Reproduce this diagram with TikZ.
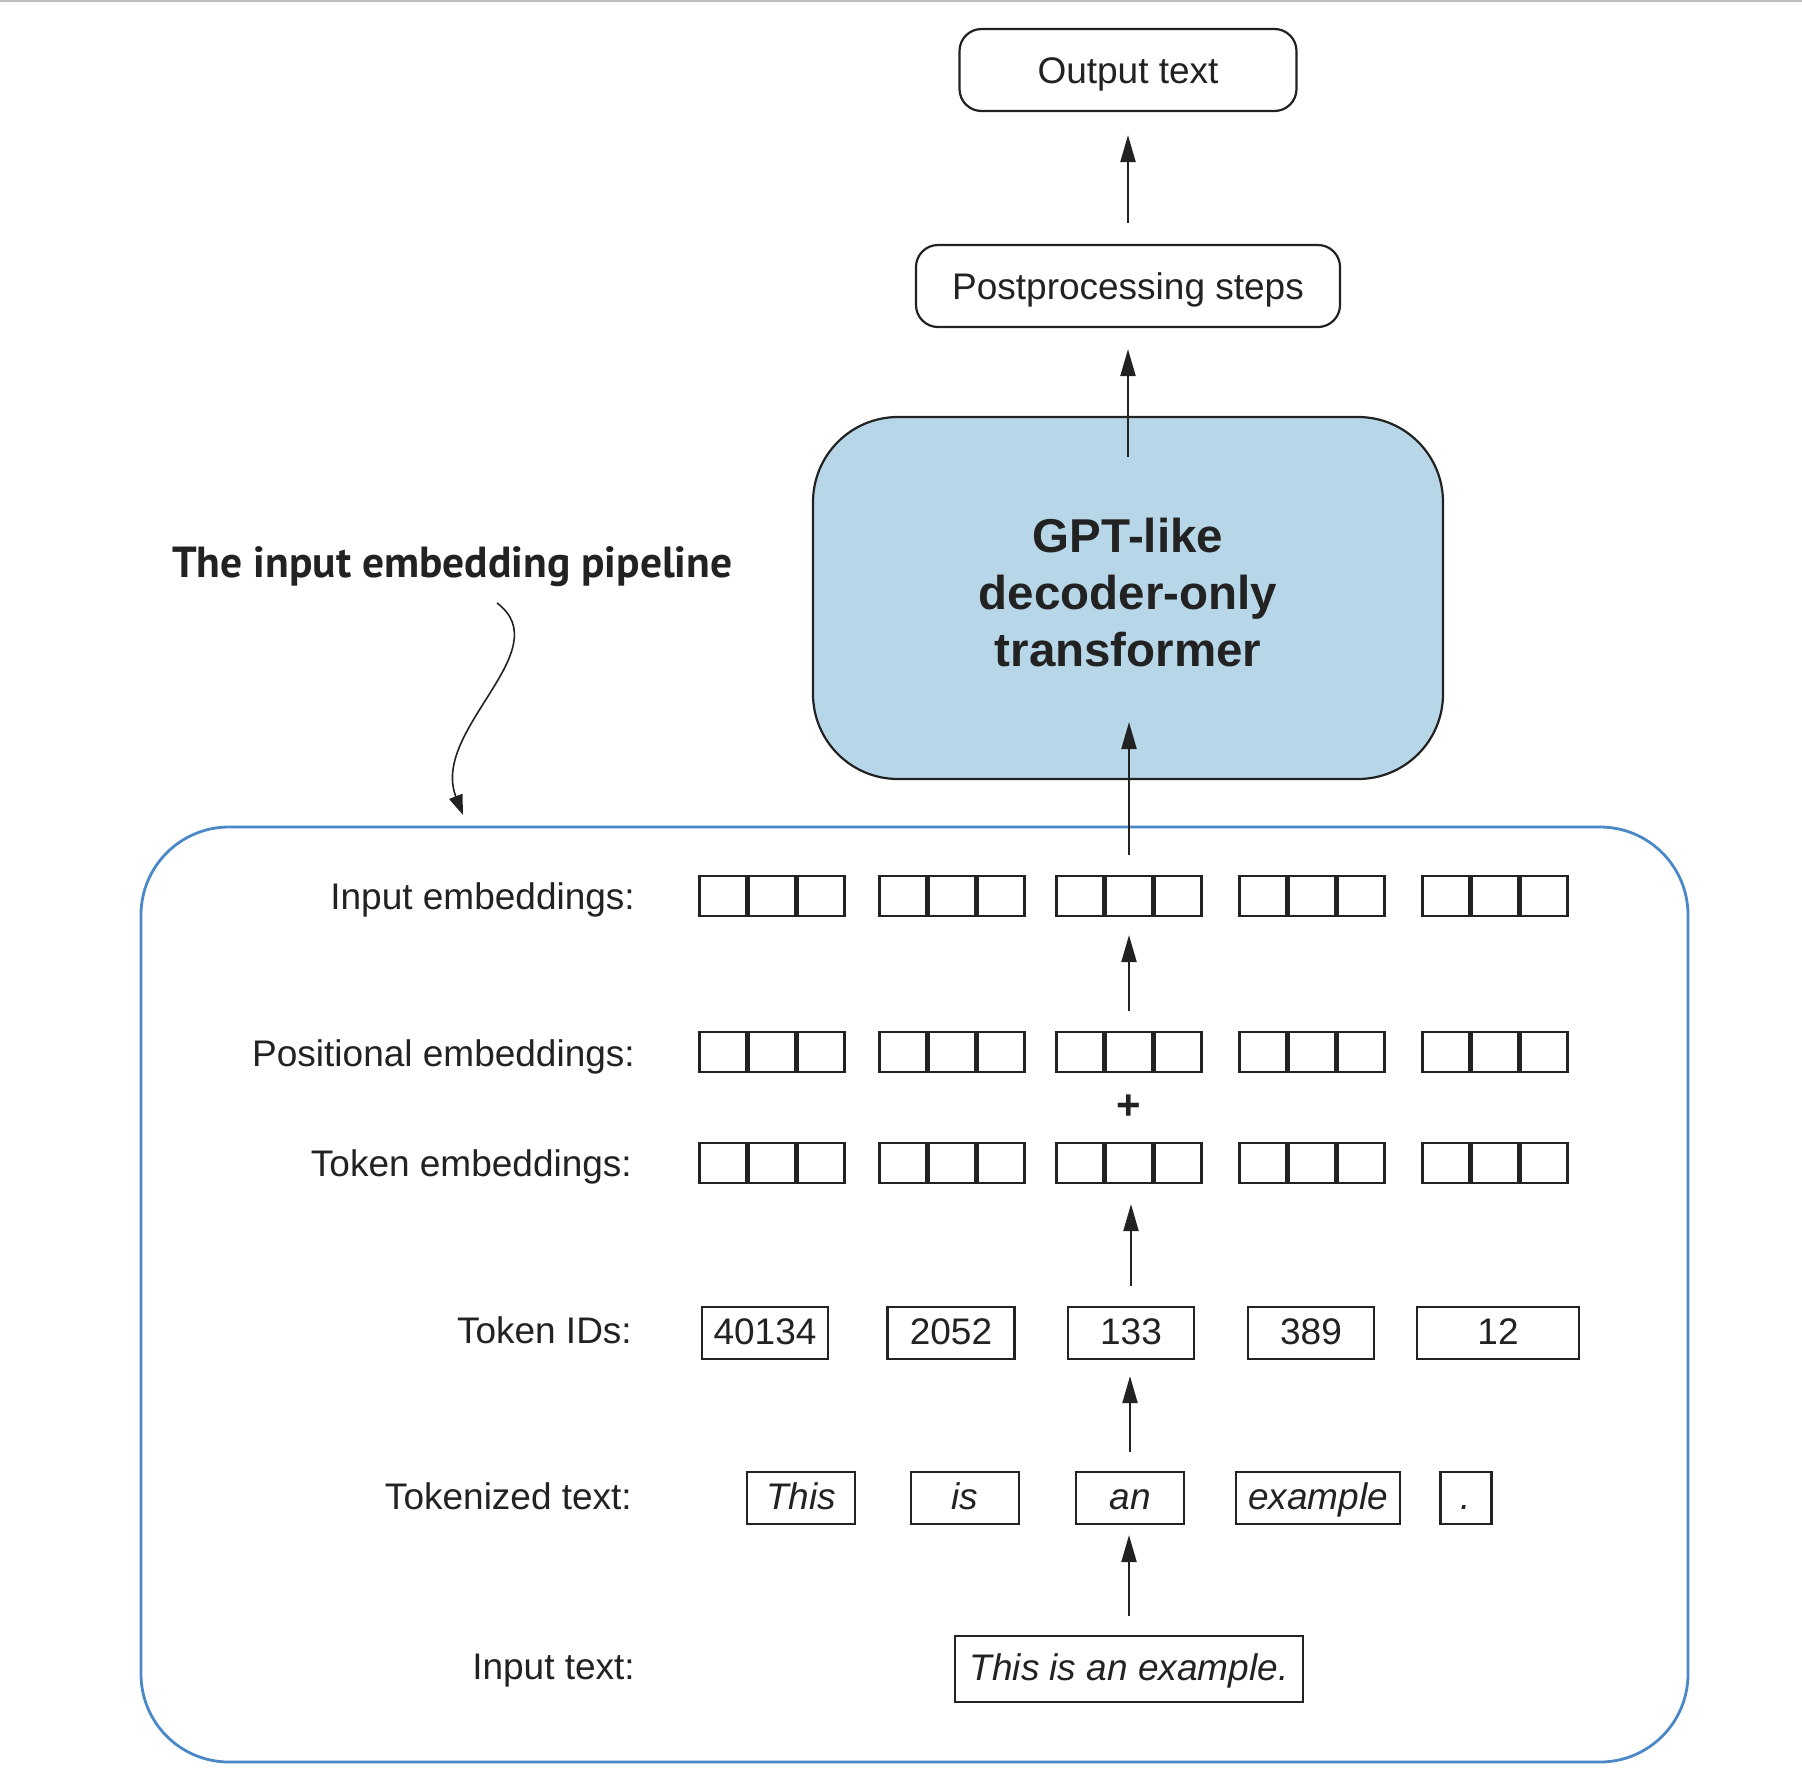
\documentclass[tikz,border=0pt]{standalone}
\usepackage{fontspec}
\usepackage{graphicx}
\setmainfont{Liberation Sans}
\newfontfamily\titlefont{PT Sans}
\usetikzlibrary{arrows.meta}
\definecolor{boxblue}{HTML}{4A88C7}
\definecolor{tfill}{HTML}{B7D7E9}
\definecolor{ink}{HTML}{222222}
\begin{document}
\begin{tikzpicture}[x=1pt,y=-1pt,
  every node/.style={text=ink},
  lbl/.style={anchor=base east, inner sep=0pt, font=\fontsize{37}{44}\selectfont},
  rbox/.style={draw=ink, line width=2.2pt, rounded corners=22pt, minimum height=82pt,
    inner sep=0pt, text height=26.5pt, text depth=0pt, font=\fontsize{37}{44}\selectfont},
  cell/.style={draw=ink, line width=2.2pt, minimum width=47pt, minimum height=40pt, inner sep=0pt},
  sbox/.style={draw=ink, line width=2.2pt, minimum height=52pt, inner sep=0pt,
    text height=23pt, text depth=0pt, font=\fontsize{37}{44}\selectfont},
  tbox/.style={sbox, font=\fontsize{37}{44}\selectfont\itshape},
  arr/.style={draw=ink, line width=2.2pt, -{Triangle[length=27pt,width=15pt]}},
]
\useasboundingbox (0,0) rectangle (1802,1786);
\fill[white] (0,0) rectangle (1802,1786);
\draw[black!25, line width=2pt] (0,1) -- (1802,1);

% pipeline frame
\node[draw=boxblue, line width=2.8pt, rounded corners=88pt, minimum width=1547pt,
  minimum height=935pt, inner sep=0pt] (pipe) at (914.5,1294.5) {};

% top part
\node[rbox, minimum width=337pt] (out) at (1128,70) {Output text};
\node[rbox, minimum width=424pt] (post) at (1128,286) {Postprocessing steps};
\node[draw=ink, fill=tfill, line width=2.2pt, rounded corners=85pt, minimum width=630pt,
  minimum height=362pt, inner sep=0pt, align=center,
  font=\fontsize{47.5}{57}\selectfont\bfseries] (tr) at (1128,598)
  {\raisebox{4pt}{\begin{tabular}{@{}c@{}}GPT-like\\[0pt]decoder-only\\transformer\end{tabular}}};
\coordinate (trout) at (1128,457);
\coordinate (trin) at (1128,722);

% title and curved arrow
\node[anchor=base west, inner sep=0pt, font=\titlefont\bfseries\fontsize{43.5}{50}\selectfont]
  (title) at (172,577) {The input embedding pipeline};
\coordinate (cs) at (497,603);
\coordinate (ce) at (463,815);
\draw[ink, line width=1.6pt, -{Triangle[length=20pt,width=14pt]}]
  (cs) .. controls (560,650) and (430,730) .. (ce);

% labels
\node[lbl] (l1) at (635,909) {Input embeddings:};
\node[lbl] (l2) at (635,1066) {Positional embeddings:};
\node[lbl] (l3) at (632,1176) {Token embeddings:};
\node[lbl] (l4) at (632,1343) {Token IDs:};
\node[lbl] (l5) at (632,1509) {Tokenized text:};
\node[lbl] (l6) at (635,1679) {Input text:};

% embedding cells
\foreach \r/\y in {ie/896, pe/1052, te/1163} {
  \foreach \g/\c in {1/772, 2/952, 3/1129, 4/1312, 5/1495} {
    \node[cell] (\r-\g-1) at (\c-49,\y) {};
    \node[cell] (\r-\g-2) at (\c,\y) {};
    \node[cell] (\r-\g-3) at (\c+49,\y) {};
  }
}
\node[font=\fontsize{42}{44}\selectfont\bfseries, inner sep=0pt] (plus) at (1129,1107) {+};

% token ids
\node[sbox, minimum width=126pt] (id1) at (765,1333) {40134};
\node[sbox, minimum width=127pt] (id2) at (951,1333) {2052};
\node[sbox, minimum width=126pt] (id3) at (1131,1333) {133};
\node[sbox, minimum width=126pt] (id4) at (1311,1333) {389};
\node[sbox, minimum width=162pt] (id5) at (1498,1333) {12};

% tokenized text
\node[tbox, minimum width=108pt] (tk1) at (801,1498) {This};
\node[tbox, minimum width=108pt] (tk2) at (965,1498) {is};
\node[tbox, minimum width=108pt] (tk3) at (1130,1498) {an};
\node[tbox, minimum width=164pt] (tk4) at (1318,1498) {example};
\node[tbox, minimum width=51pt] (tk5) at (1466,1498) {.};

% input text
\node[tbox, minimum width=348pt, minimum height=66pt] (in) at (1129,1669) {This is an example.};

% arrows
\draw[arr, shorten <=21pt, shorten >=23pt] (post.north) -- (out.south);
\draw[arr, shorten >=21pt] (trout) -- (post.south);
\draw[arr, shorten <=20pt] (ie-3-2.north) -- (ie-3-2.north |- trin);
\draw[arr, shorten <=20pt, shorten >=18pt] (pe-3-2.north) -- (ie-3-2.south);
\draw[arr, shorten <=20pt, shorten >=20pt] (id3.north) -- (id3.north |- te-3-2.south);
\draw[arr, shorten <=19pt, shorten >=16pt] (tk3.north) -- (tk3.north |- id3.south);
\draw[arr, shorten <=19pt, shorten >=10pt] (in.north) -- (in.north |- tk3.south);
\end{tikzpicture}
\end{document}
